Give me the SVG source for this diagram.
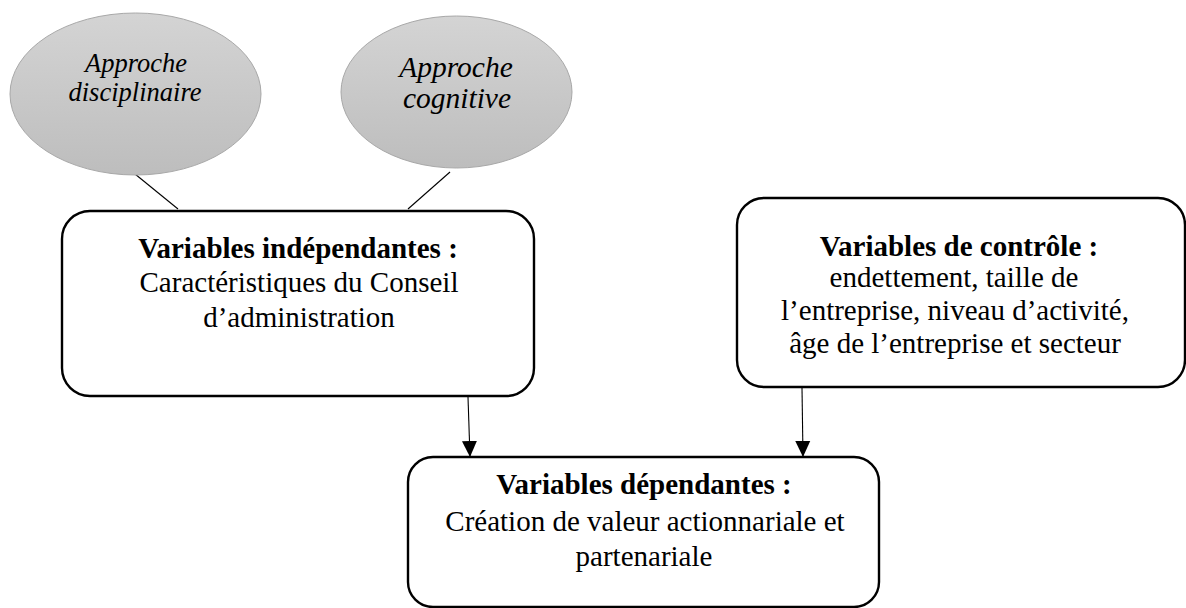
<svg xmlns="http://www.w3.org/2000/svg" width="1186" height="608" viewBox="0 0 1186 608">
<defs>
<linearGradient id="g" x1="0" y1="0" x2="0" y2="1">
<stop offset="0" stop-color="#d4d4d4"/>
<stop offset="1" stop-color="#bdbdbd"/>
</linearGradient>
<marker id="arr" viewBox="0 0 16 16" refX="16" refY="8" markerWidth="16" markerHeight="16" markerUnits="userSpaceOnUse" orient="auto">
<path d="M0,0.5 L16,8 L0,15.5 Z" fill="#000"/>
</marker>
<style>
.ell{fill:url(#g);stroke:#a8a8a8;stroke-width:1}
.box{fill:#fff;stroke:#000;stroke-width:2.4}
.it{font-family:"Liberation Serif",serif;font-style:italic;text-anchor:middle;fill:#000}
.t{font-family:"Liberation Serif",serif;font-size:29px;text-anchor:middle;fill:#000}
.b{font-weight:bold}
.con{stroke:#000;stroke-width:1.1;fill:none}
</style>
</defs>
<rect width="1186" height="608" fill="#fff"/>
<g id="connectors">
<line class="con" x1="135" y1="174" x2="178" y2="209"/>
<line class="con" x1="450" y1="172" x2="408" y2="209"/>
<line class="con" x1="468" y1="397" x2="470" y2="457" marker-end="url(#arr)"/>
<line class="con" x1="802" y1="388" x2="803" y2="457" marker-end="url(#arr)"/>
</g>
<g id="approche-disciplinaire">
<ellipse class="ell" cx="135.5" cy="94" rx="125.5" ry="81"/>
<text class="it" font-size="26.5" x="136" y="72">Approche</text>
<text class="it" font-size="26.5" x="135" y="101">disciplinaire</text>
</g>
<g id="approche-cognitive">
<ellipse class="ell" cx="456.5" cy="92" rx="115.5" ry="76"/>
<text class="it" font-size="29.5" x="456" y="77">Approche</text>
<text class="it" font-size="29.5" x="457" y="108">cognitive</text>
</g>
<g id="variables-independantes">
<rect class="box" x="62" y="211" width="472" height="185" rx="28" ry="28"/>
<text class="t b" x="298" y="258">Variables indépendantes :</text>
<text class="t" x="299" y="292">Caractéristiques du Conseil</text>
<text class="t" x="299" y="327">d’administration</text>
</g>
<g id="variables-controle">
<rect class="box" x="737" y="198" width="448" height="189" rx="27" ry="27"/>
<text class="t b" x="959" y="256">Variables de contrôle :</text>
<text class="t" x="954" y="287">endettement, taille de</text>
<text class="t" x="955" y="320">l’entreprise, niveau d’activité,</text>
<text class="t" x="955" y="353">âge de l’entreprise et secteur</text>
</g>
<g id="variables-dependantes">
<rect class="box" x="408" y="457" width="471" height="150" rx="25" ry="25"/>
<text class="t b" x="644" y="494">Variables dépendantes :</text>
<text class="t" x="645" y="531">Création de valeur actionnariale et</text>
<text class="t" x="644" y="566">partenariale</text>
</g>
</svg>
